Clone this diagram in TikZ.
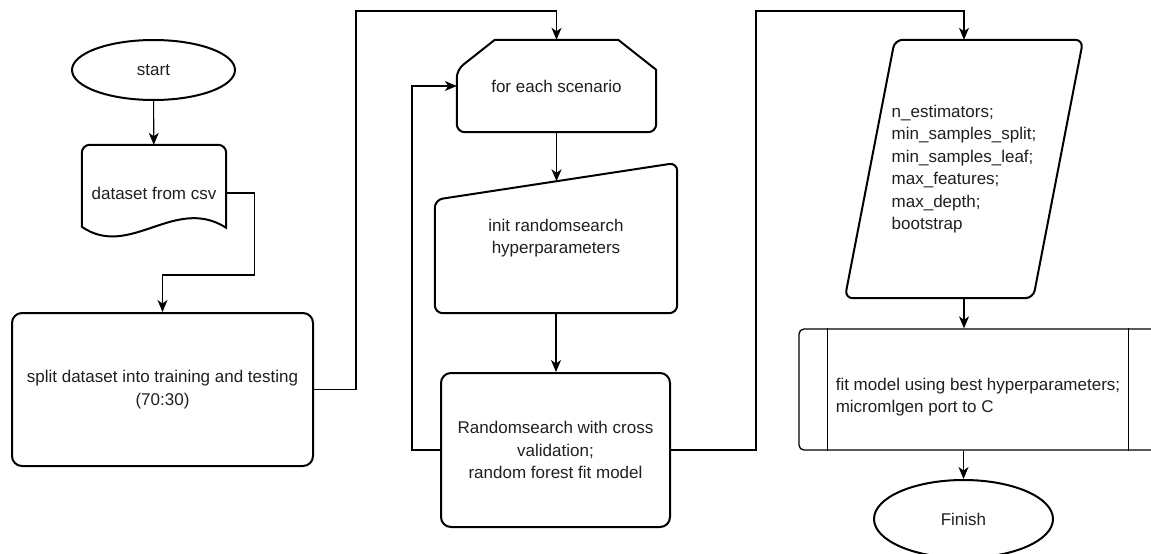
\documentclass[tikz,border=0pt]{standalone}
\usepackage{fontspec}
\setmainfont{Liberation Sans}
\usetikzlibrary{shapes.geometric,arrows.meta,calc}

\begin{document}
\begin{tikzpicture}[x=1pt,y=-1pt,
    outl/.style={line width=2pt},
    txt/.style={font=\fontsize{17}{22.5}\selectfont, inner sep=0pt, text=black!88},
    line/.style={line width=1.1pt, -{Stealth[length=12pt,width=10pt,inset=3.5pt]}}]
    \useasboundingbox (0,0) rectangle (1151,554);

    % left column
    \node[draw, ellipse, outl, txt, minimum width=163pt, minimum height=60pt] (start) at (153.5,70) {start};
    \node[txt, minimum width=144pt, minimum height=96pt] (data) at (154,193) {dataset from csv};
    \draw[outl] ($(data.north west)+(0,82)$) [rounded corners=8] -- (data.north west) -- (data.north east) [sharp corners] -- ($(data.north east)+(0,83)$)
        .. controls ($(data.north west)+(93,50)$) and ($(data.north west)+(48,115)$) .. cycle;
    \node[draw, outl, rounded corners=10, txt, align=center, minimum width=301pt, minimum height=153pt] (split) at (162.5,389.5) {split dataset into training and testing\\(70:30)};

    \draw[line] (start) -- (data);
    \draw[line] (data.east) -- ++(28,0) |- ($(split.north)+(0,-37)$) -- (split.north);

    % middle column
    \node[txt, minimum width=199pt, minimum height=92pt] (loop) at (556.5,86) {for each scenario};
    \draw[outl] ($(loop.north west)+(0,30)$) -- ($(loop.north west)+(38,0)$) -- ($(loop.north east)+(-38,0)$) -- ($(loop.north east)+(0,30)$)
        [rounded corners=8] -- (loop.south east) -- (loop.south west) -- cycle;

    \node[txt, align=center, minimum width=242pt, minimum height=150pt] (init) at (556,238) {init randomsearch\\hyperparameters};
    \coordinate (inittl) at ($(init.north west)+(0,37)$);
    \coordinate (initin) at ($(inittl)!0.5!(init.north east)$);
    \draw[outl, rounded corners=8] (inittl) -- (init.north east) -- (init.south east) -- (init.south west) -- cycle;

    \node[draw, outl, rounded corners=10, txt, align=center, minimum width=229pt, minimum height=154pt] (rs) at (555.5,450) {Randomsearch with cross\\validation;\\random forest fit model};

    \coordinate (top1) at (356,11);
    \coordinate (top2) at (756,11);
    \draw[line] (split.east) -| (top1) -| (loop.north);
    \draw[line] (loop.south) -- (loop.south |- initin);
    \draw[line] (init.south) -- (init.south |- rs.north);
    \draw[line] (rs.west) -- ++(-28,0) |- (loop.west);

    % right column
    \node[txt, align=left, minimum width=238pt, minimum height=258pt] (par) at (964,169)
        {n\_estimators;\\min\_samples\_split;\\min\_samples\_leaf;\\max\_features;\\max\_depth;\\bootstrap};
    \draw[outl, rounded corners=8] ($(par.north west)+(50,0)$) -- (par.north east) -- ($(par.south east)+(-50,0)$) -- (par.south west) -- cycle;

    \node[draw, line width=1.3pt, rounded corners=5, minimum width=358pt, minimum height=121pt] (sub) at (978,389.5) {};
    \draw[line width=1.3pt] ($(sub.north west)+(29,0)$) -- ($(sub.south west)+(29,0)$);
    \draw[line width=1.3pt] ($(sub.north east)+(-29,0)$) -- ($(sub.south east)+(-29,0)$);
    \node[txt, align=left] (subtxt) at ($(sub.center)+(0,7.5)$) {fit model using best hyperparameters;\\micromlgen port to C};

    \node[draw, ellipse, outl, txt, minimum width=179pt, minimum height=78pt] (fin) at (963.5,519) {Finish};

    \draw[line] (rs.east) -| (top2) -| (par.north);
    \draw[line] (par.south) -- (par.south |- sub.north);
    \draw[line] (fin.north |- sub.south) -- (fin.north);
\end{tikzpicture}
\end{document}
